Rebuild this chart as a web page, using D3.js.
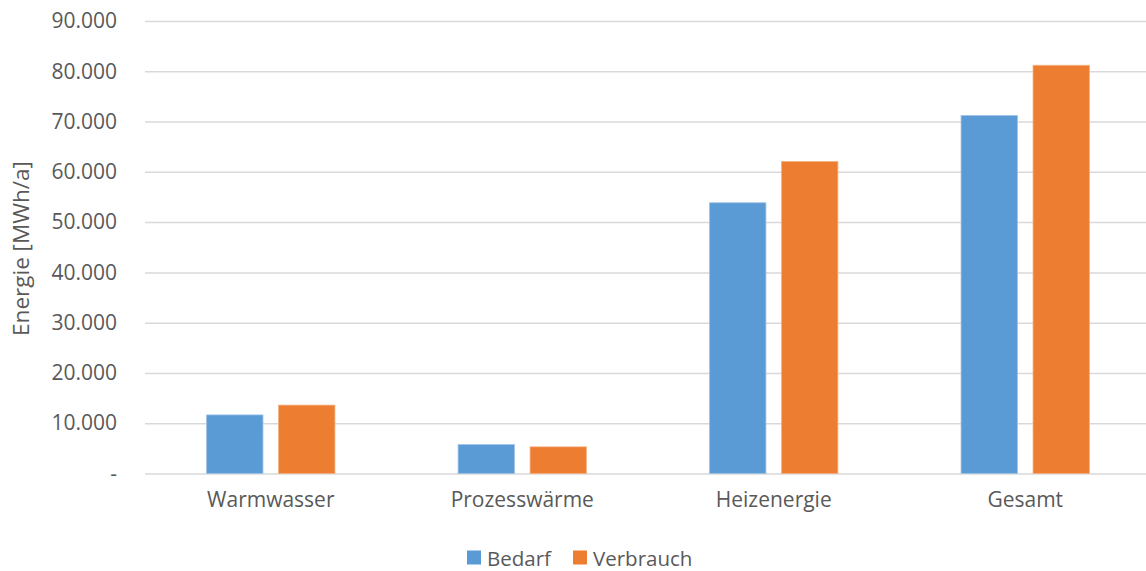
<!DOCTYPE html>
<html>
<head>
<meta charset="utf-8">
<script src="https://cdn.jsdelivr.net/npm/d3@7"></script>
<style>
  html, body { margin: 0; padding: 0; background: #fff; }
  svg { display: block; font-family: "Open Sans", sans-serif; }
</style>
</head>
<body>
<svg id="chart" width="1146" height="571"></svg>
<script>
const categories = ["Warmwasser", "Prozesswärme", "Heizenergie", "Gesamt"];
const seriesNames = ["Bedarf", "Verbrauch"];
const bedarf = [11650, 5750, 53850, 71200];
const verbrauch = [13600, 5300, 62050, 81200];
const yTicks = [0, 10000, 20000, 30000, 40000, 50000, 60000, 70000, 80000, 90000];
const yTitle = "Energie [MWh/a]";
const colors = ["#5B9BD5", "#ED7D31"];

(function () {
const W = 1146, H = 571;
const mLeft = 145, mRight = 1151, mTop = 21, mBottom = 473.5;
const svg = d3.select("#chart");
const textColor = "#595959";

const y = d3.scaleLinear().domain([0, 90000]).range([mBottom, mTop]);
const x0 = d3.scaleBand().domain(categories).range([mLeft, mRight]).paddingInner(0.4897).paddingOuter(0.245);
const x1 = d3.scaleBand().domain(seriesNames).range([0, x0.bandwidth()]).paddingInner(0.217).paddingOuter(0);
const color = d3.scaleOrdinal().domain(seriesNames).range(colors);

const locale = d3.formatLocale({decimal: ",", thousands: ".", grouping: [3], currency: ["", ""]});
const fmt = v => v === 0 ? "-" : locale.format(",")(v);
const yAxis = d3.axisLeft(y).tickValues(yTicks).tickSize(-(W - mLeft)).tickPadding(28).tickFormat(fmt);
const gy = svg.append("g").attr("transform", `translate(${mLeft},0)`).call(yAxis);
gy.select(".domain").remove();
gy.selectAll(".tick line").attr("stroke", "#D9D9D9").attr("stroke-width", 1.5);
gy.selectAll(".tick text").attr("fill", textColor).attr("font-size", 21).attr("font-family", "Open Sans");

const data = categories.map((c, i) => ({cat: c, vals: [
  {key: seriesNames[0], value: bedarf[i]},
  {key: seriesNames[1], value: verbrauch[i]}
]}));
const groups = svg.append("g").selectAll("g").data(data).join("g")
  .attr("transform", d => `translate(${x0(d.cat)},0)`);
groups.selectAll("rect").data(d => d.vals).join("rect")
  .attr("x", d => x1(d.key))
  .attr("y", d => y(d.value))
  .attr("width", x1.bandwidth())
  .attr("height", d => y(0) - y(d.value))
  .attr("fill", d => color(d.key))
  .attr("stroke", d => d.key === "Bedarf" ? "#9DC3E6" : "#F4B183")
  .attr("stroke-width", 0.8);

const xAxis = d3.axisBottom(x0).tickSize(0).tickPadding(19);
const gx = svg.append("g").attr("transform", `translate(0,${mBottom})`).call(xAxis);
gx.select(".domain").remove();
gx.selectAll(".tick text").attr("fill", textColor).attr("font-size", 21).attr("font-family", "Open Sans");

svg.append("text")
  .attr("transform", `translate(29,248.5) rotate(-90)`)
  .attr("text-anchor", "middle")
  .attr("fill", textColor)
  .attr("font-size", 22.5)
  .text(yTitle);

const legendItems = [{name: seriesNames[0], x: 467}, {name: seriesNames[1], x: 573}];
const lg = svg.append("g").selectAll("g").data(legendItems).join("g")
  .attr("transform", d => `translate(${d.x},550.5)`);
lg.append("rect").attr("width", 14).attr("height", 14).attr("fill", (d, i) => colors[i]);
lg.append("text").attr("x", 20).attr("y", 15).attr("fill", textColor).attr("font-size", 20.5).text(d => d.name);
})();
</script>
</body>
</html>
